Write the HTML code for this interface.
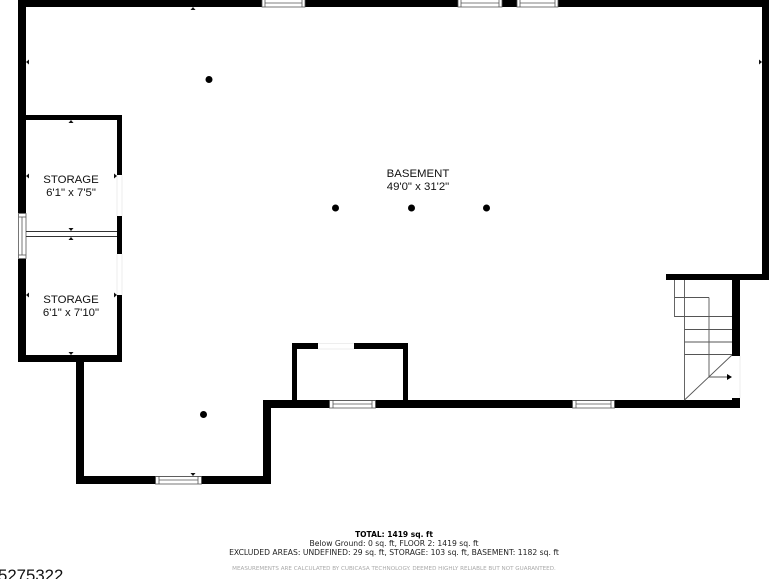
<!DOCTYPE html>
<html><head><meta charset="utf-8"><style>
html,body{margin:0;padding:0;background:#fff;width:769px;height:579px;overflow:hidden}
svg{display:block}
.l{font-family:"Liberation Sans",sans-serif;font-size:11.4px;fill:#111;text-anchor:middle}
.f{font-family:"DejaVu Sans",sans-serif;font-size:7.65px;fill:#222;text-anchor:middle}
</style></head><body>
<svg width="769" height="579" viewBox="0 0 769 579" xmlns="http://www.w3.org/2000/svg">
<rect width="769" height="579" fill="#fff"/>
<g fill="#000">
<!-- outer walls -->
<rect x="18" y="0" width="751" height="7"/>
<rect x="18" y="0" width="8" height="213"/>
<rect x="18" y="259" width="8" height="103"/>
<rect x="762" y="0" width="7" height="280"/>
<rect x="666" y="274" width="103" height="6"/>
<rect x="732" y="274" width="8" height="82"/>
<rect x="732" y="398" width="8" height="10"/>
<rect x="263" y="400" width="477" height="8"/>
<!-- storage -->
<rect x="18" y="115" width="104" height="5"/>
<rect x="117" y="115" width="5" height="60"/>
<rect x="117" y="216" width="5" height="38"/>
<rect x="117" y="295" width="5" height="67"/>
<rect x="18" y="355" width="104" height="7"/>
<!-- lower room -->
<rect x="76" y="359" width="8" height="125"/>
<rect x="76" y="476" width="195" height="8"/>
<rect x="263" y="400" width="8" height="84"/>
<!-- alcove -->
<rect x="292" y="343" width="5" height="60"/>
<rect x="403" y="343" width="5" height="60"/>
<rect x="292" y="343" width="26" height="6"/>
<rect x="354" y="343" width="54" height="6"/>
<!-- columns -->
<circle cx="209" cy="79.500" r="3.500"/>
<circle cx="335.500" cy="208" r="3.500"/>
<circle cx="411.500" cy="208" r="3.500"/>
<circle cx="486.500" cy="208" r="3.500"/>
<circle cx="203.500" cy="414.500" r="3.500"/>
</g>
<!-- horizontal windows -->
<g fill="#fff" stroke="#555" stroke-width="0.800">
<rect x="262" y="-1" width="43" height="8"/><line x1="265" y1="3" x2="302" y2="3"/><line x1="265" y1="-1" x2="265" y2="7"/><line x1="302" y1="-1" x2="302" y2="7"/>
<rect x="458" y="-1" width="44" height="8"/><line x1="461" y1="3" x2="499" y2="3"/><line x1="461" y1="-1" x2="461" y2="7"/><line x1="499" y1="-1" x2="499" y2="7"/>
<rect x="517" y="-1" width="41" height="8"/><line x1="520" y1="3" x2="555" y2="3"/><line x1="520" y1="-1" x2="520" y2="7"/><line x1="555" y1="-1" x2="555" y2="7"/>
<rect x="155.500" y="476.500" width="46" height="7.500"/><line x1="159" y1="480" x2="198" y2="480"/><line x1="159" y1="476.500" x2="159" y2="484"/><line x1="198" y1="476.500" x2="198" y2="484"/>
<rect x="329.500" y="400.500" width="46" height="7.500"/><line x1="333" y1="404" x2="372" y2="404"/><line x1="333" y1="400.500" x2="333" y2="408"/><line x1="372" y1="400.500" x2="372" y2="408"/>
<rect x="572.500" y="400.500" width="42" height="7.500"/><line x1="576" y1="404" x2="611" y2="404"/><line x1="576" y1="400.500" x2="576" y2="408"/><line x1="611" y1="400.500" x2="611" y2="408"/>
<!-- left window -->
<rect x="18.500" y="213.500" width="7.500" height="45"/><line x1="22" y1="217" x2="22" y2="255"/><line x1="18.500" y1="217" x2="26" y2="217"/><line x1="18.500" y1="255" x2="26" y2="255"/>
</g>
<!-- openings -->
<g stroke="#eee" stroke-width="1" fill="none">
<line x1="122" y1="175" x2="122" y2="216"/><line x1="117" y1="175" x2="117" y2="216"/>
<line x1="122" y1="254" x2="122" y2="295"/><line x1="117" y1="254" x2="117" y2="295"/>
<line x1="318" y1="343.500" x2="354" y2="343.500"/><line x1="318" y1="349" x2="354" y2="349"/>
<line x1="740" y1="356" x2="740" y2="398"/>
</g>
<!-- storage partition -->
<g stroke="#333" stroke-width="1" fill="none">
<line x1="26" y1="231.500" x2="117" y2="231.500"/>
<line x1="26" y1="236.500" x2="117" y2="236.500"/>
</g>
<!-- stairs -->
<g stroke="#555" stroke-width="0.900" fill="none">
<path d="M674.500 280V316.500H732M674.500 297.500H709M684.500 280V400M709 297.500V377M684.500 329.500H732M684.500 342H732M684.500 354.500H732M684.500 400L732 355M709 377H728"/>
</g>
<polygon points="732,377 727,374 727,380" fill="#000"/>
<!-- dimension ticks -->
<g fill="#111">
<polygon points="193,7 190.500,10 195.500,10"/>
<polygon points="26,62 29,59.500 29,64.500"/>
<polygon points="762,62 759,59.500 759,64.500"/>
<polygon points="71,120 68.500,123 73.500,123"/>
<polygon points="26,176 29,173.500 29,178.500"/>
<polygon points="117,176 114,173.500 114,178.500"/>
<polygon points="71,231 68.500,228 73.500,228"/>
<polygon points="71,237 68.500,240 73.500,240"/>
<polygon points="26,295 29,292.500 29,297.500"/>
<polygon points="117,295 114,292.500 114,297.500"/>
<polygon points="71,355 68.500,352 73.500,352"/>
<polygon points="193,476 190.500,473 195.500,473"/>
</g>
<!-- labels -->
<text class="l" x="418" y="177">BASEMENT</text>
<text class="l" x="418" y="190">49'0" x 31'2"</text>
<text class="l" x="71" y="183">STORAGE</text>
<text class="l" x="71" y="196">6'1" x 7'5"</text>
<text class="l" x="71" y="303">STORAGE</text>
<text class="l" x="71" y="316">6'1" x 7'10"</text>
<text class="f" x="394" y="537" style="font-weight:bold;font-size:7.5px;fill:#000">TOTAL: 1419 sq. ft</text>
<text class="f" x="394" y="546">Below Ground: 0 sq. ft, FLOOR 2: 1419 sq. ft</text>
<text class="f" x="394" y="555">EXCLUDED AREAS: UNDEFINED: 29 sq. ft, STORAGE: 103 sq. ft, BASEMENT: 1182 sq. ft</text>
<text class="f" x="394" y="570" style="font-size:5.600px;fill:#aaa">MEASUREMENTS ARE CALCULATED BY CUBICASA TECHNOLOGY. DEEMED HIGHLY RELIABLE BUT NOT GUARANTEED.</text>
<text x="-2" y="581" style="font-family:'Liberation Sans',sans-serif;font-size:16.800px;fill:#111">5275322</text>
</svg>
</body></html>
